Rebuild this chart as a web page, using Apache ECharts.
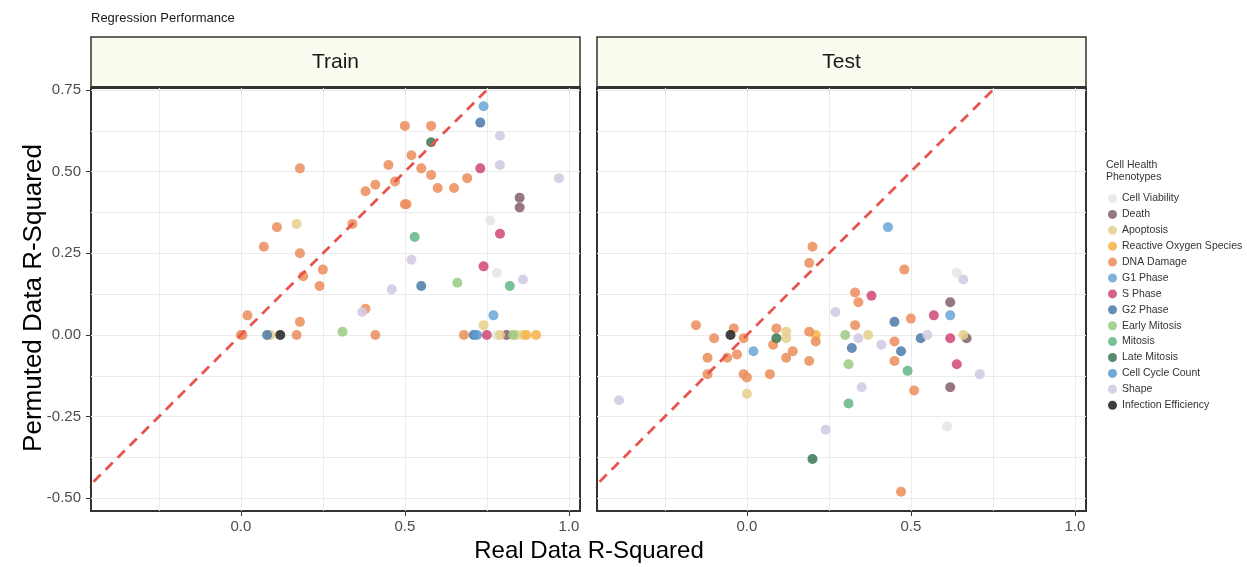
<!DOCTYPE html>
<html>
<head>
<meta charset="utf-8">
<script src="https://cdn.jsdelivr.net/npm/echarts@6/dist/echarts.min.js"></script>
<style>
  html, body { margin: 0; padding: 0; background: #ffffff; }
  #chart { width: 1247px; height: 567px; }
</style>
</head>
<body>
<div id="chart"></div>
<script>
// Phenotype groups, their short codes and colours
const phenotypes = ['Cell Viability', 'Death', 'Apoptosis', 'Reactive Oxygen Species', 'DNA Damage',
  'G1 Phase', 'S Phase', 'G2 Phase', 'Early Mitosis', 'Mitosis', 'Late Mitosis',
  'Cell Cycle Count', 'Shape', 'Infection Efficiency'];
const phenotypeCodes = ['CV', 'DE', 'AP', 'ROS', 'DNA', 'G1', 'S', 'G2', 'EM', 'MI', 'LM', 'CC', 'SH', 'IE'];
const phenotypeColors = ['#e6e6e6', '#86636f', '#e6d08e', '#f6b448', '#ec915e', '#6ea9d6', '#d24c77',
  '#4f7ea8', '#9ccd86', '#67b889', '#3f7a55', '#5c9dd0', '#d3c9e3', '#262626'];

// Train panel: real vs permuted R-squared per model
const trainReal = [0.18, 0.11, 0.17, 0.07, 0.18, 0.25, 0.19, 0.24, 0.74, 0.73, 0.79, 0.50, 0.58, 0.58,
  0.52, 0.45, 0.55, 0.73, 0.79, 0.58, 0.47, 0.41, 0.38, 0.60, 0.65, 0.69, 0.97, 0.85, 0.85, 0.50,
  0.505, 0.34, 0.76, 0.79, 0.53, 0.52, 0.74, 0.78, 0.86, 0.82, 0.66, 0.55, 0.46, 0.02, 0.00, 0.005,
  0.08, 0.09, 0.12, 0.17, 0.18, 0.38, 0.37, 0.31, 0.41, 0.77, 0.74, 0.68, 0.71, 0.72, 0.75, 0.78,
  0.79, 0.81, 0.83, 0.84, 0.86, 0.87, 0.90];
const trainPermuted = [0.51, 0.33, 0.34, 0.27, 0.25, 0.20, 0.18, 0.15, 0.70, 0.65, 0.61, 0.64, 0.64, 0.59,
  0.55, 0.52, 0.51, 0.51, 0.52, 0.49, 0.47, 0.46, 0.44, 0.45, 0.45, 0.48, 0.48, 0.42, 0.39, 0.40,
  0.40, 0.34, 0.35, 0.31, 0.30, 0.23, 0.21, 0.19, 0.17, 0.15, 0.16, 0.15, 0.14, 0.06, 0.00, 0.00,
  0.00, 0.00, 0.00, 0.00, 0.04, 0.08, 0.07, 0.01, 0.00, 0.06, 0.03, 0.00, 0.00, 0.00, 0.00, 0.00,
  0.00, 0.00, 0.00, 0.00, 0.00, 0.00, 0.00];
const trainPhenotype = ['DNA', 'DNA', 'AP', 'DNA', 'DNA', 'DNA', 'DNA', 'DNA', 'G1', 'G2', 'SH', 'DNA', 'DNA', 'LM',
  'DNA', 'DNA', 'DNA', 'S', 'SH', 'DNA', 'DNA', 'DNA', 'DNA', 'DNA', 'DNA', 'DNA', 'SH', 'DE', 'DE', 'DNA',
  'DNA', 'DNA', 'CV', 'S', 'MI', 'SH', 'S', 'CV', 'SH', 'MI', 'EM', 'G2', 'SH', 'DNA', 'DNA', 'DNA',
  'G2', 'AP', 'IE', 'DNA', 'DNA', 'DNA', 'SH', 'EM', 'DNA', 'G1', 'AP', 'DNA', 'G2', 'CC', 'S', 'CV',
  'AP', 'DE', 'EM', 'AP', 'AP', 'ROS', 'ROS'];

// Test panel
const testReal = [0.20, 0.19, 0.27, -0.155, -0.04, -0.05, -0.10, -0.01, 0.09, 0.09, 0.12, 0.12, 0.19, 0.21,
  0.21, 0.30, 0.08, 0.02, -0.03, -0.12, -0.06, 0.14, 0.12, 0.19, -0.12, -0.01, 0.00, 0.07, 0.00, -0.39,
  0.43, 0.48, 0.64, 0.66, 0.33, 0.34, 0.38, 0.62, 0.57, 0.62, 0.45, 0.50, 0.33, 0.34, 0.37, 0.53,
  0.55, 0.62, 0.66, 0.67, 0.32, 0.41, 0.45, 0.47, 0.31, 0.45, 0.64, 0.49, 0.71, 0.35, 0.51, 0.62,
  0.31, 0.61, 0.47, 0.24, 0.20];
const testPermuted = [0.27, 0.22, 0.07, 0.03, 0.02, 0.00, -0.01, -0.01, 0.02, -0.01, 0.01, -0.01, 0.01, 0.00,
  -0.02, 0.00, -0.03, -0.05, -0.06, -0.07, -0.07, -0.05, -0.07, -0.08, -0.12, -0.12, -0.13, -0.12, -0.18, -0.20,
  0.33, 0.20, 0.19, 0.17, 0.13, 0.10, 0.12, 0.10, 0.06, 0.06, 0.04, 0.05, 0.03, -0.01, 0.00, -0.01,
  0.00, -0.01, 0.00, -0.01, -0.04, -0.03, -0.02, -0.05, -0.09, -0.08, -0.09, -0.11, -0.12, -0.16, -0.17, -0.16,
  -0.21, -0.28, -0.48, -0.29, -0.38];
const testPhenotype = ['DNA', 'DNA', 'SH', 'DNA', 'DNA', 'IE', 'DNA', 'DNA', 'DNA', 'LM', 'AP', 'AP', 'DNA', 'ROS',
  'DNA', 'EM', 'DNA', 'G1', 'DNA', 'DNA', 'DNA', 'DNA', 'DNA', 'DNA', 'DNA', 'DNA', 'DNA', 'DNA', 'AP', 'SH',
  'G1', 'DNA', 'CV', 'SH', 'DNA', 'DNA', 'S', 'DE', 'S', 'G1', 'G2', 'DNA', 'DNA', 'SH', 'AP', 'G2',
  'SH', 'S', 'AP', 'DE', 'G2', 'SH', 'DNA', 'G2', 'EM', 'DNA', 'S', 'MI', 'SH', 'SH', 'DNA', 'DE',
  'MI', 'CV', 'DNA', 'SH', 'LM'];

// Axis breaks
const xGridValues = [-0.25, 0, 0.25, 0.5, 0.75, 1.0];
const xTickValues = [0, 0.5, 1.0];
const yGridValues = [-0.5, -0.375, -0.25, -0.125, 0, 0.125, 0.25, 0.375, 0.5, 0.625, 0.75];
const yTickValues = [-0.5, -0.25, 0, 0.25, 0.5, 0.75];
// Identity reference line (y = x), clipped to the panel
const identityLine = [[-1, -1], [1.5, 1.5]];

const panels = ['Train', 'Test'];
const xLimits = [-0.457, 1.034];
const yLimits = [-0.539, 0.756];

const FONT = 'Liberation Sans, Arial, sans-serif';
const gridBox = [
  { left: 91, top: 88, width: 489, height: 423 },
  { left: 597, top: 88, width: 489, height: 423 }
];

const chart = echarts.init(document.getElementById('chart'), null, { renderer: 'canvas' });

const grids = gridBox.map(g => Object.assign({
  show: true, backgroundColor: '#ffffff', borderColor: '#333333', borderWidth: 2,
  containLabel: false, outerBoundsMode: 'none'
}, g));

const xAxes = [];
const yAxes = [];
gridBox.forEach((g, i) => {
  // main axis: grid lines + labels
  xAxes.push({
    gridIndex: i, type: 'value', position: 'bottom', min: xLimits[0], max: xLimits[1],
    axisLine: { show: false, onZero: false },
    axisTick: { show: false, customValues: xGridValues },
    splitLine: { show: true, lineStyle: { color: '#ebebeb', width: 1 } },
    axisLabel: {
      customValues: xTickValues, margin: 8, color: '#4d4d4d', fontSize: 15, fontFamily: FONT,
      formatter: v => v.toFixed(1)
    }
  });
  // tick marks at labelled breaks
  xAxes.push({
    gridIndex: i, type: 'value', position: 'bottom', min: xLimits[0], max: xLimits[1],
    axisLine: { show: false, onZero: false },
    axisTick: { show: true, customValues: xTickValues, length: 5, lineStyle: { color: '#333333', width: 1 } },
    splitLine: { show: false },
    axisLabel: { show: false }
  });
  yAxes.push({
    gridIndex: i, type: 'value', position: 'left', min: yLimits[0], max: yLimits[1],
    axisLine: { show: false, onZero: false },
    axisTick: { show: false, customValues: yGridValues },
    splitLine: { show: true, lineStyle: { color: '#ebebeb', width: 1 } },
    axisLabel: {
      show: i === 0, customValues: yTickValues, margin: 10, color: '#4d4d4d', fontSize: 15, fontFamily: FONT,
      formatter: v => v.toFixed(2)
    }
  });
  yAxes.push({
    gridIndex: i, type: 'value', position: 'left', min: yLimits[0], max: yLimits[1],
    axisLine: { show: false, onZero: false },
    axisTick: { show: i === 0, customValues: yTickValues, length: 5, lineStyle: { color: '#333333', width: 1 } },
    splitLine: { show: false },
    axisLabel: { show: false }
  });
});

const panelData = [
  { real: trainReal, perm: trainPermuted, pheno: trainPhenotype },
  { real: testReal, perm: testPermuted, pheno: testPhenotype }
];

const series = [];
panelData.forEach((p, i) => {
  phenotypes.forEach((name, k) => {
    const code = phenotypeCodes[k];
    const pts = [];
    p.pheno.forEach((c, j) => { if (c === code) pts.push([p.real[j], p.perm[j]]); });
    series.push({
      type: 'scatter', name: name, xAxisIndex: i * 2, yAxisIndex: i * 2,
      data: pts, symbol: 'circle', symbolSize: 10,
      itemStyle: { color: phenotypeColors[k], opacity: 0.88 },
      emphasis: { disabled: true }, z: 3
    });
  });
  series.push({
    type: 'line', name: 'identity', xAxisIndex: i * 2, yAxisIndex: i * 2,
    data: identityLine, showSymbol: false, symbol: 'none', clip: true, silent: true,
    lineStyle: { color: '#e8544f', width: 2.8, type: [10, 7] }, z: 4
  });
});

const graphics = [
  { type: 'text', left: 91, top: 12,
    style: { text: 'Regression Performance', font: '13px ' + FONT, fill: '#1a1a1a' } },
  { type: 'text', x: 34, y: 298, rotation: Math.PI / 2,
    style: { text: 'Permuted Data R-Squared', font: '26px ' + FONT, fill: '#000000', align: 'center', verticalAlign: 'middle' } },
  { type: 'text', x: 589, y: 551,
    style: { text: 'Real Data R-Squared', font: '24px ' + FONT, fill: '#000000', align: 'center', verticalAlign: 'middle' } },
  { type: 'text', left: 1106, top: 159,
    style: { text: 'Cell Health\nPhenotypes', font: '10.5px ' + FONT, fill: '#333333', lineHeight: 12 } }
];
gridBox.forEach((g, i) => {
  graphics.push({
    type: 'rect', shape: { x: g.left, y: 37, width: g.width, height: 50 },
    style: { fill: '#fbfbef', stroke: '#333333', lineWidth: 1.5 }
  });
  graphics.push({
    type: 'line', shape: { x1: g.left, y1: 87, x2: g.left + g.width, y2: 87 },
    style: { stroke: '#333333', lineWidth: 2 }
  });
  graphics.push({
    type: 'text', x: g.left + g.width / 2, y: 62,
    style: { text: panels[i], font: '21px ' + FONT, fill: '#1a1a1a', align: 'center', verticalAlign: 'middle' }
  });
});

chart.setOption({
  animation: false,
  backgroundColor: '#ffffff',
  grid: grids,
  xAxis: xAxes,
  yAxis: yAxes,
  legend: {
    data: phenotypes, orient: 'vertical', left: 1103, top: 188,
    itemWidth: 9, itemHeight: 9, itemGap: 4.9, icon: 'circle', selectedMode: false,
    textStyle: { fontSize: 10.5, color: '#333333', fontFamily: FONT, lineHeight: 11 }
  },
  graphic: graphics,
  series: series
});
</script>
</body>
</html>
